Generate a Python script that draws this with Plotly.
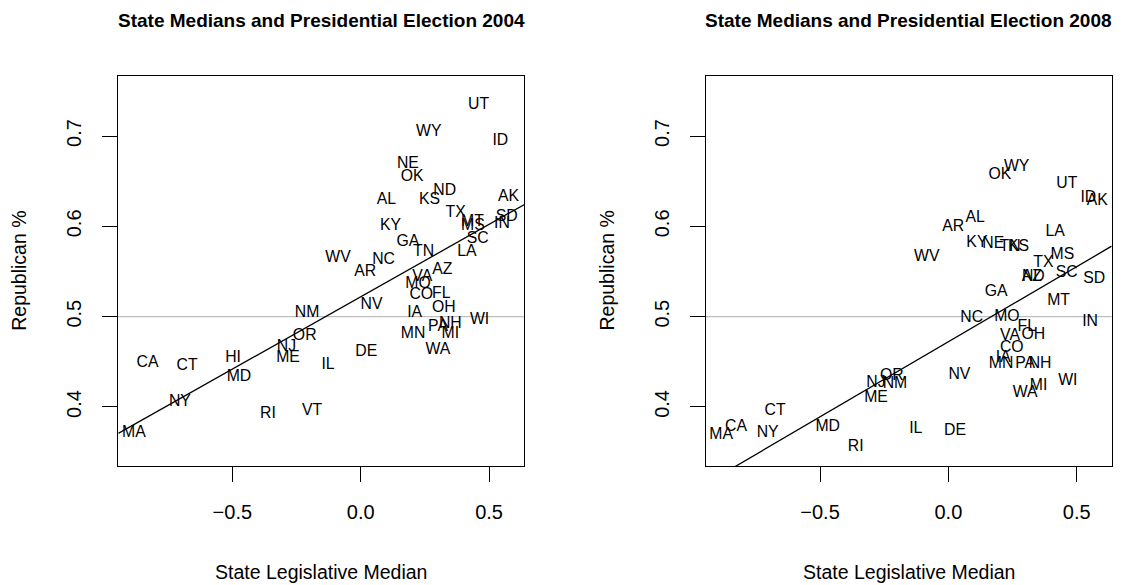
import numpy as np
import plotly.graph_objects as go

# ---------------- data ----------------
states_2004 = ["UT","WY","ID","NE","OK","ND","AL","KS","AK","TX","MT","MS","SD","IN","KY","GA","SC","TN","LA",
               "WV","NC","AR","AZ","VA","MO","CO","FL","NV","OH","NM","IA","WI","NH","PA","MI","MN","OR","NJ",
               "WA","DE","HI","ME","CA","CT","IL","MD","NY","VT","RI","MA"]
median_2004 = [0.459,0.265,0.544,0.184,0.200,0.327,0.100,0.268,0.576,0.370,0.435,0.437,0.569,0.550,0.116,0.184,
               0.456,0.245,0.414,-0.088,0.089,0.018,0.318,0.240,0.223,0.236,0.314,0.042,0.324,-0.209,0.210,0.463,
               0.349,0.301,0.349,0.204,-0.218,-0.289,0.301,0.022,-0.497,-0.283,-0.830,-0.676,-0.127,-0.474,-0.704,
               -0.189,-0.361,-0.883]
rep_2004 = [0.734,0.704,0.694,0.669,0.655,0.639,0.629,0.629,0.632,0.615,0.605,0.600,0.610,0.602,0.600,0.583,
            0.586,0.571,0.572,0.565,0.563,0.549,0.552,0.544,0.536,0.524,0.525,0.513,0.510,0.504,0.504,0.496,
            0.492,0.488,0.481,0.481,0.478,0.466,0.463,0.461,0.454,0.454,0.449,0.445,0.446,0.433,0.405,
            0.395,0.392,0.371]

states_2008 = ["WY","OK","UT","ID","AK","AL","AR","LA","KY","NE","TN","KS","WV","MS","TX","AZ","ND","SC","SD",
               "GA","MT","NC","MO","IN","FL","VA","OH","CO","IA","MN","PA","NH","NV","OR","NJ","NM","MI","WI",
               "WA","ME","CT","CA","MA","NY","MD","IL","DE","RI"]
median_2008 = [0.266,0.201,0.461,0.545,0.580,0.104,0.019,0.416,0.111,0.175,0.240,0.273,-0.084,0.444,0.370,0.325,
               0.331,0.461,0.568,0.186,0.429,0.091,0.228,0.552,0.305,0.240,0.331,0.247,0.214,0.205,0.299,0.357,
               0.043,-0.220,-0.282,-0.208,0.351,0.465,0.299,-0.282,-0.675,-0.827,-0.885,-0.704,-0.470,-0.127,
               0.026,-0.361]
rep_2008 = [0.666,0.657,0.647,0.631,0.628,0.609,0.599,0.594,0.582,0.580,0.577,0.577,0.566,0.568,0.559,0.544,
            0.544,0.548,0.542,0.527,0.517,0.498,0.500,0.494,0.489,0.478,0.480,0.465,0.454,0.447,0.447,0.447,
            0.435,0.434,0.426,0.425,0.423,0.429,0.415,0.410,0.395,0.378,0.369,0.371,0.378,0.375,0.373,0.356]

# fitted regression lines (intercept, slope)
fit_2004 = (0.522, 0.1603)
fit_2008 = (0.4722, 0.1664)

x_ticks = [-0.5, 0.0, 0.5]
y_ticks = [0.4, 0.5, 0.6, 0.7]
x_range = [-0.944, 0.636]
y_range = [0.3343, 0.7668]
ref_level = 0.5

titles = ["State Medians and Presidential Election 2004", "State Medians and Presidential Election 2008"]
x_title = "State Legislative Median"
y_title = "Republican %"

# ---------------- layout geometry ----------------
W, H = 1135, 585
FONT = "Liberation Sans, Arial, Helvetica, sans-serif"
frames = [(118.3, 524.0), (706.0, 1111.7)]   # left/right pixel edges
top_px, bot_px = 75.7, 466.3

fig = go.Figure()

panels = [(states_2004, median_2004, rep_2004, fit_2004),
          (states_2008, median_2008, rep_2008, fit_2008)]

for i, (st, xv, yv, fit) in enumerate(panels):
    xa = "x" if i == 0 else "x2"
    ya = "y" if i == 0 else "y2"
    fig.add_trace(go.Scatter(
        x=xv, y=yv, text=st, mode="text", textposition="middle center",
        textfont=dict(family=FONT, size=15.8, color="black"),
        xaxis=xa, yaxis=ya, showlegend=False, hoverinfo="skip", cliponaxis=True))
    lx = np.array(x_range)
    ly = fit[0] + fit[1] * lx
    fig.add_trace(go.Scatter(
        x=lx, y=ly, mode="lines", line=dict(color="black", width=1.3),
        xaxis=xa, yaxis=ya, showlegend=False, hoverinfo="skip"))
    fig.add_shape(type="line", xref=f"{xa} domain", yref=ya, x0=0, x1=1, y0=ref_level, y1=ref_level,
                  line=dict(color="#BEBEBE", width=1.3), layer="below")

def xaxis_cfg(i):
    l, r = frames[i]
    return dict(domain=[l / W, r / W], range=x_range, tickvals=x_ticks, tickformat=".1f",
                showline=True, mirror=True, linecolor="black", linewidth=1.3,
                ticks="outside", ticklen=15, tickwidth=1.3, tickcolor="black",
                ticklabelstandoff=13,
                tickfont=dict(family=FONT, size=20, color="black"),
                showgrid=False, zeroline=False, automargin=False, fixedrange=True,
                anchor="y" if i == 0 else "y2")

def yaxis_cfg(i):
    return dict(domain=[(H - bot_px) / H, (H - top_px) / H], range=y_range, tickvals=y_ticks,
                tickformat=".1f", tickangle=-90,
                showline=True, mirror=True, linecolor="black", linewidth=1.3,
                ticks="outside", ticklen=15, tickwidth=1.3, tickcolor="black",
                ticklabelstandoff=13,
                tickfont=dict(family=FONT, size=20, color="black"),
                showgrid=False, zeroline=False, automargin=False, fixedrange=True,
                anchor="x" if i == 0 else "x2")

annotations = []
for i in range(2):
    l, r = frames[i]
    cx = (l + r) / 2
    annotations.append(dict(text=f"<b>{titles[i]}</b>", x=cx / W, y=(H - 21) / H, xref="paper", yref="paper",
                            xanchor="center", yanchor="middle", showarrow=False,
                            font=dict(family=FONT, size=19, color="black")))
    annotations.append(dict(text=x_title, x=cx / W, y=(H - 572) / H, xref="paper", yref="paper",
                            xanchor="center", yanchor="middle", showarrow=False,
                            font=dict(family=FONT, size=19.5, color="black")))
    annotations.append(dict(text=y_title, x=(l - 99.5) / W, y=(H - (top_px + bot_px) / 2) / H,
                            xref="paper", yref="paper", textangle=-90,
                            xanchor="center", yanchor="middle", showarrow=False,
                            font=dict(family=FONT, size=19.5, color="black")))

fig.update_layout(
    width=W, height=H,
    margin=dict(l=0, r=0, t=0, b=0),
    paper_bgcolor="white", plot_bgcolor="white",
    xaxis=xaxis_cfg(0), yaxis=yaxis_cfg(0),
    xaxis2=xaxis_cfg(1), yaxis2=yaxis_cfg(1),
    annotations=annotations,
    showlegend=False,
)

fig.write_html("out.html", config={"displayModeBar": False},
               post_script="document.body.style.margin='0';document.body.style.overflow='hidden';")
